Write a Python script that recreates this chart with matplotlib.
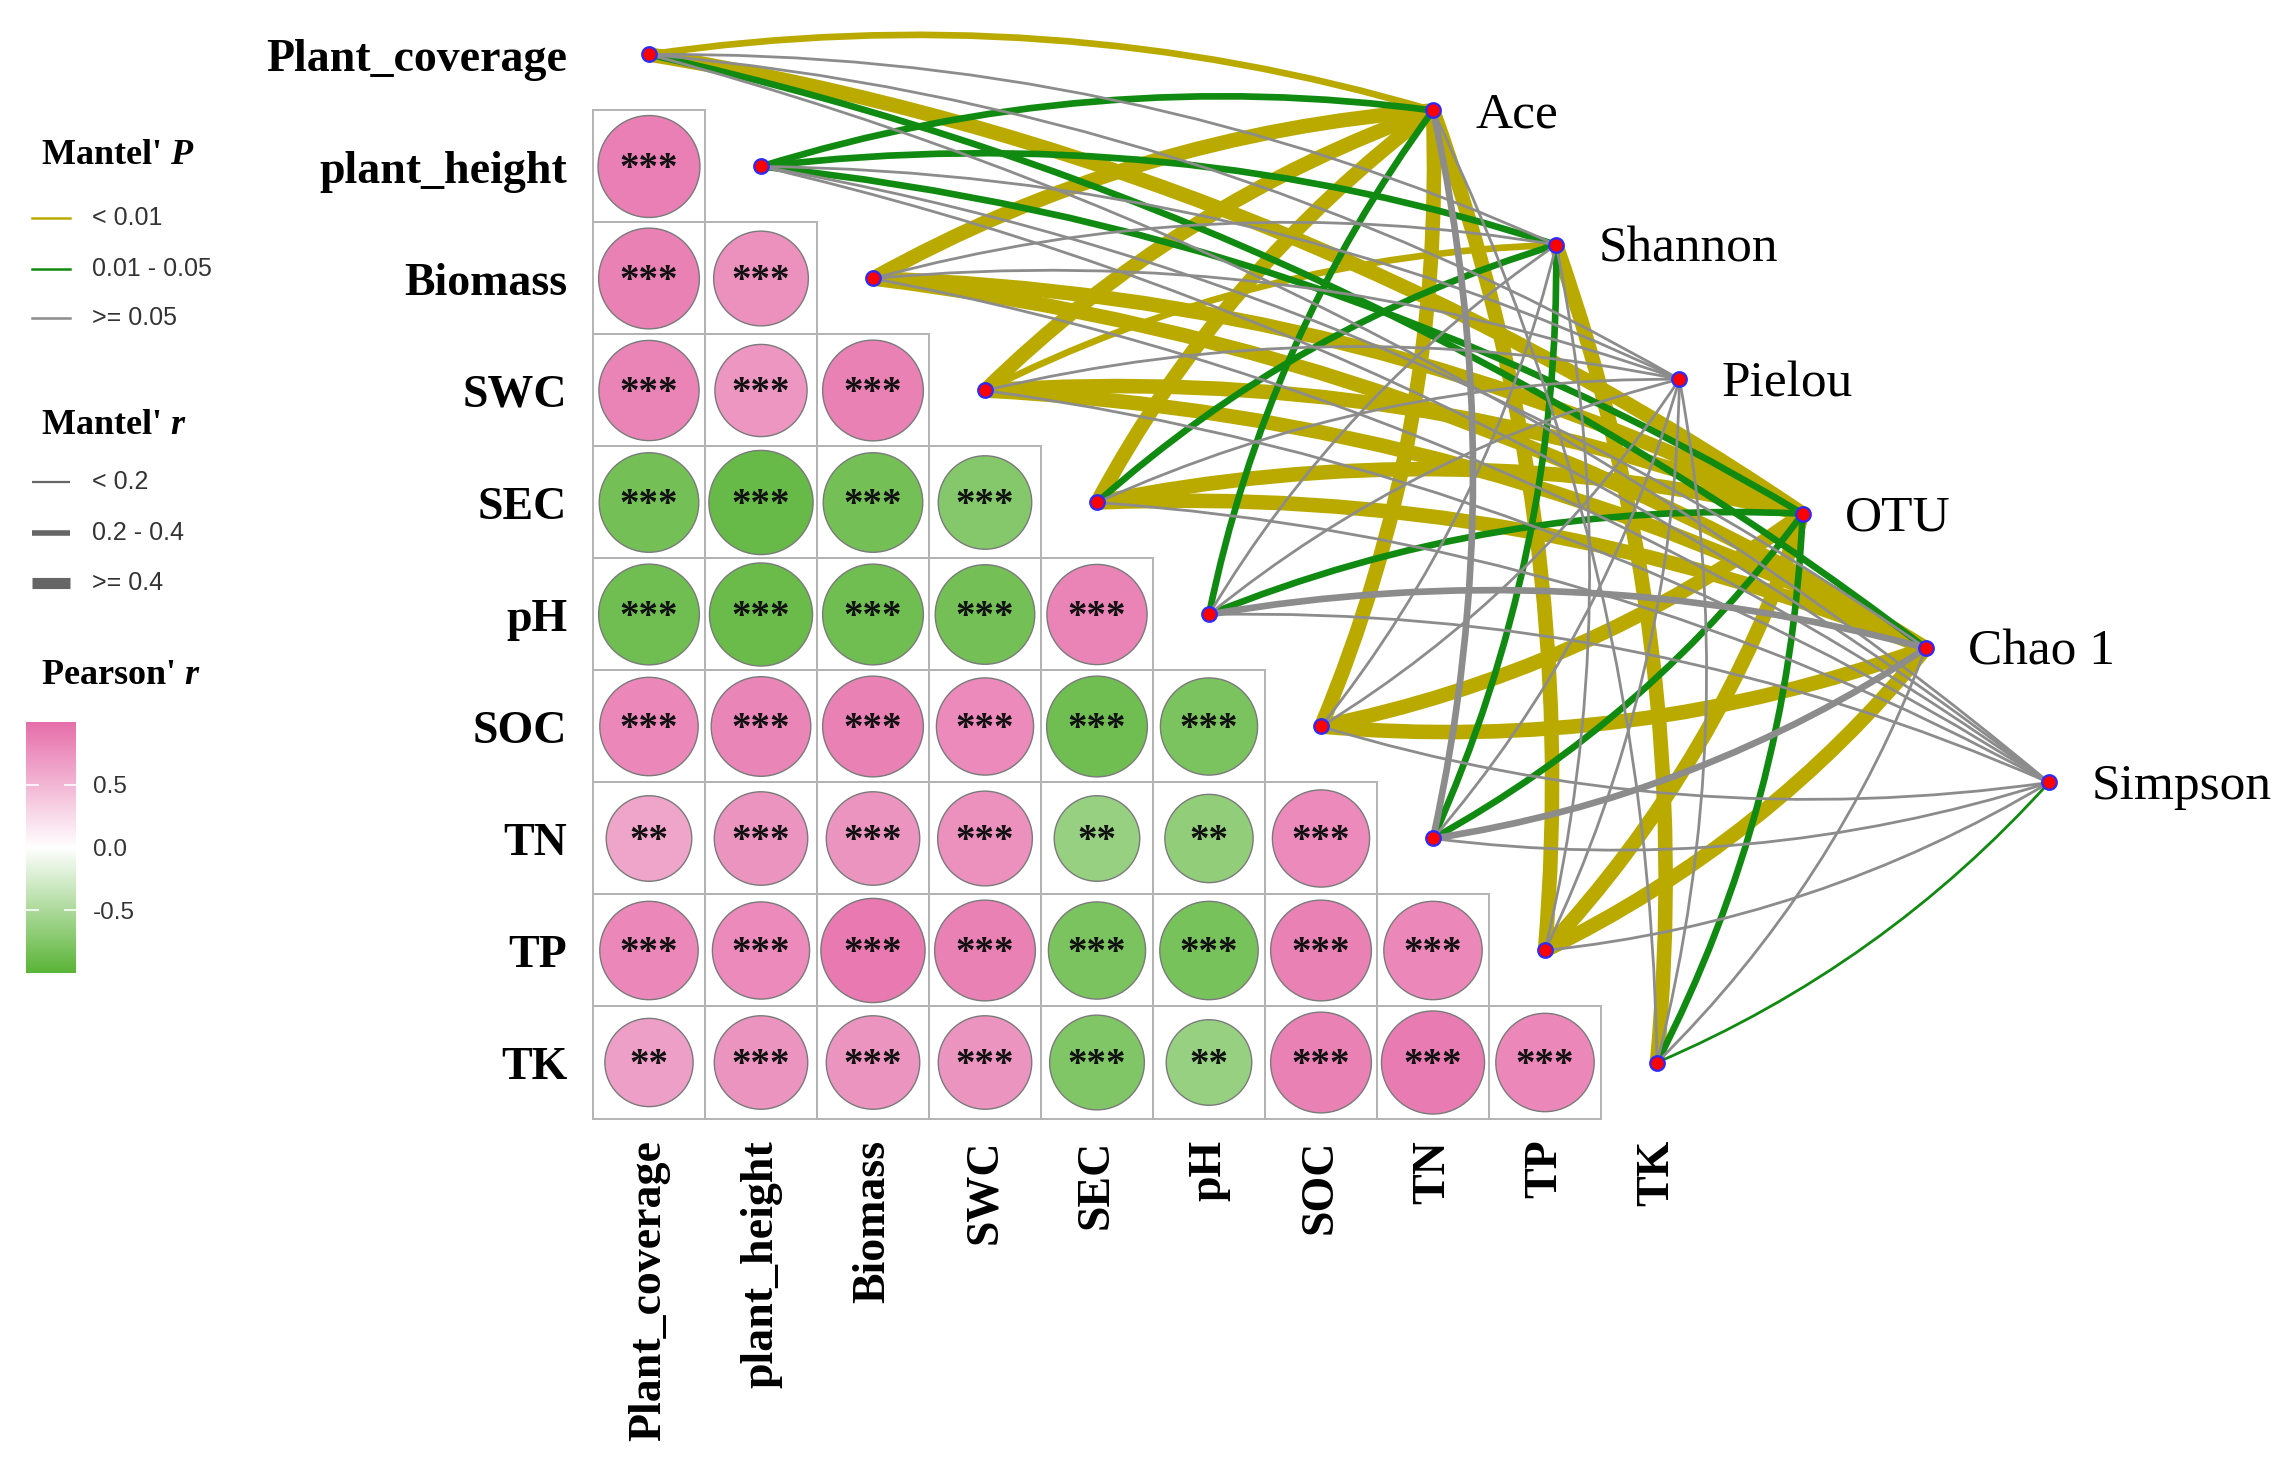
import numpy as np
import matplotlib
matplotlib.use("Agg")
import matplotlib.pyplot as plt
from matplotlib.colors import LinearSegmentedColormap, Normalize
from matplotlib.cm import ScalarMappable
from matplotlib.patches import Circle, Rectangle, PathPatch
from matplotlib.path import Path
from matplotlib.lines import Line2D

plt.rcParams['mathtext.fontset'] = 'custom'
plt.rcParams['mathtext.it'] = 'Liberation Serif:italic:bold'
plt.rcParams['mathtext.rm'] = 'Liberation Serif:bold'
plt.rcParams['mathtext.bf'] = 'Liberation Serif:bold'

# ---------------- data ----------------
env_vars = ["Plant_coverage", "plant_height", "Biomass", "SWC", "SEC",
            "pH", "SOC", "TN", "TP", "TK"]
diversity = ["Ace", "Shannon", "Pielou", "OTU", "Chao 1", "Simpson"]

# Pearson r, lower triangle (row i, columns 0..i-1)
pearson_r = [
    [],
    [0.88],
    [0.86, 0.76],
    [0.85, 0.72, 0.86],
    [-0.84, -0.92, -0.84, -0.74],
    [-0.86, -0.90, -0.86, -0.84, 0.85],
    [0.82, 0.84, 0.86, 0.80, -0.86, -0.80],
    [0.62, 0.74, 0.74, 0.76, -0.62, -0.66, 0.80],
    [0.82, 0.80, 0.92, 0.86, -0.80, -0.82, 0.86, 0.82],
    [0.66, 0.74, 0.74, 0.74, -0.76, -0.62, 0.86, 0.90, 0.82],
]
pearson_sig = [
    [],
    ["***"],
    ["***", "***"],
    ["***", "***", "***"],
    ["***", "***", "***", "***"],
    ["***", "***", "***", "***", "***"],
    ["***", "***", "***", "***", "***", "***"],
    ["**", "***", "***", "***", "**", "**", "***"],
    ["***", "***", "***", "***", "***", "***", "***", "***"],
    ["**", "***", "***", "***", "***", "**", "***", "***", "***"],
]

# Mantel r / p : rows = env_vars, cols = diversity
mantel_r = [
    [0.30, 0.10, 0.08, 0.48, 0.28, 0.06],
    [0.26, 0.27, 0.12, 0.25, 0.14, 0.09],
    [0.52, 0.13, 0.09, 0.50, 0.49, 0.07],
    [0.50, 0.32, 0.11, 0.51, 0.47, 0.08],
    [0.46, 0.28, 0.12, 0.53, 0.50, 0.10],
    [0.27, 0.15, 0.11, 0.29, 0.30, 0.12],
    [0.55, 0.13, 0.10, 0.52, 0.56, 0.09],
    [0.24, 0.29, 0.13, 0.31, 0.26, 0.11],
    [0.49, 0.14, 0.12, 0.54, 0.51, 0.10],
    [0.15, 0.47, 0.12, 0.33, 0.13, 0.18],
]
mantel_p = [
    [0.004, 0.21, 0.35, 0.001, 0.032, 0.46],
    [0.021, 0.018, 0.15, 0.028, 0.12, 0.27],
    [0.001, 0.18, 0.31, 0.001, 0.001, 0.39],
    [0.001, 0.006, 0.22, 0.001, 0.001, 0.33],
    [0.001, 0.024, 0.14, 0.001, 0.001, 0.28],
    [0.037, 0.11, 0.19, 0.026, 0.072, 0.16],
    [0.001, 0.16, 0.24, 0.001, 0.001, 0.30],
    [0.063, 0.041, 0.13, 0.019, 0.081, 0.21],
    [0.001, 0.13, 0.17, 0.001, 0.001, 0.22],
    [0.12, 0.002, 0.09, 0.035, 0.14, 0.044],
]

p_labels = ["< 0.01", "0.01 - 0.05", ">= 0.05"]
r_labels = ["< 0.2", "0.2 - 0.4", ">= 0.4"]
cbar_ticks = [-0.5, 0.0, 0.5]

# ---------------- style ----------------
YEL, GRN, GRY = "#BAAA00", "#118A11", "#8C8C8C"
P_COLORS = [YEL, GRN, GRY]
R_WIDTHS = [2.0, 4.8, 10.5]
SERIF = "Liberation Serif"
SANS = "Liberation Sans"

def p_class(p):
    return 0 if p < 0.01 else (1 if p < 0.05 else 2)

def r_class(r):
    return 0 if r < 0.2 else (1 if r < 0.4 else 2)

W, H = 2278, 1465
fig = plt.figure(figsize=(W / 100, H / 100), dpi=100)
CELL = 112.0
X0, Y0 = 649.0, 54.5
ax = fig.add_axes([0, 0, 1, 1])
ax.set_xlim(-X0 / CELL, (W - X0) / CELL)
ax.set_ylim((H - Y0) / CELL, -Y0 / CELL)
ax.axis('off')

cmap = LinearSegmentedColormap.from_list('pg', ['#5AB437', '#FFFFFF', '#E66EAA'])
norm = Normalize(-1, 1)

n = len(env_vars)
# heatmap cells
for i in range(1, n):
    for j in range(i):
        r = pearson_r[i][j]
        ax.add_patch(Rectangle((j - 0.5, i - 0.5), 1, 1, fill=False,
                               ec='#B3B3B3', lw=1.4, zorder=1))
        rad = 0.485 * np.sqrt(abs(r))
        ax.add_patch(Circle((j, i), rad, fc=cmap(norm(r)), ec='#7A7A7A',
                            lw=1.0, zorder=2))
        ax.text(j, i + 0.03, pearson_sig[i][j], ha='center', va='center',
                fontsize=28, fontfamily=SERIF, fontweight='bold',
                color='#111111', zorder=3)

# labels
for k, name in enumerate(env_vars):
    ax.text(-0.73, k + 0.045, name, ha='right', va='center', fontsize=33,
            fontfamily=SERIF, fontweight='bold', color='black')
    ax.text(k, 9.69, name, ha='center', va='top', rotation=90, fontsize=33,
            fontfamily=SERIF, fontweight='bold', color='black')

# target positions
m = len(diversity)
tx = np.linspace(7.0, 12.5, m)
ty = np.linspace(0.5, 6.5, m)

CURV = 0.11
segs = []
for i in range(n):
    for k in range(m):
        pc = p_class(mantel_p[i][k])
        rc = r_class(mantel_r[i][k])
        segs.append((R_WIDTHS[rc], pc, i, k))
segs.sort(key=lambda s: (-s[0], s[1]))
for lw, pc, i, k in segs:
    x0, y0 = i, i
    x1, y1 = tx[k], ty[k]
    dx, dy = x1 - x0, y1 - y0
    sgn = 1 if i < 6 else -1
    cx = (x0 + x1) / 2 + sgn * CURV * dy
    cy = (y0 + y1) / 2 - sgn * CURV * dx
    path = Path([(x0, y0), (cx, cy), (x1, y1)],
                [Path.MOVETO, Path.CURVE3, Path.CURVE3])
    ax.add_patch(PathPatch(path, fc='none', ec=P_COLORS[pc], lw=lw,
                           capstyle='butt', zorder=4))

# nodes
ax.plot(range(n), range(n), 'o', ms=10.5, mfc='#FF0000', mec='#2B2BFF',
        mew=1.6, zorder=6, ls='none')
ax.plot(tx, ty, 'o', ms=10.5, mfc='#FF0000', mec='#2B2BFF', mew=1.6,
        zorder=6, ls='none')
for k, name in enumerate(diversity):
    ax.text(tx[k] + 0.38, ty[k] + 0.04, name, ha='left', va='center',
            fontsize=37, fontfamily=SERIF, color='black')

# ---------------- legends ----------------
def fx(px):
    return px / W

def fy(py):
    return 1 - py / H

def title(py, s):
    fig.text(fx(41), fy(py), s, ha='left', va='center', fontsize=26,
             fontfamily=SERIF, fontweight='bold', color='black')

title(155, "Mantel' $P$")
for idx, py in enumerate([218, 269, 318]):
    fig.add_artist(Line2D([fx(32), fx(70)], [fy(py), fy(py)],
                          color=P_COLORS[idx], lw=1.8))
    fig.text(fx(92), fy(py), p_labels[idx], ha='left', va='center',
             fontsize=18, fontfamily=SANS, color='#333333')

title(426, "Mantel' $r$")
for idx, py in enumerate([482, 533, 583]):
    fig.add_artist(Line2D([fx(32), fx(70)], [fy(py), fy(py)],
                          color='#666666', lw=[1.6, 4.0, 8.0][idx],
                          solid_capstyle='butt'))
    fig.text(fx(92), fy(py), r_labels[idx], ha='left', va='center',
             fontsize=18, fontfamily=SANS, color='#333333')

title(676, "Pearson' $r$")
cax = fig.add_axes([fx(26), fy(973), fx(76) - fx(26), (973 - 722) / H])
cb = fig.colorbar(ScalarMappable(norm=norm, cmap=cmap), cax=cax, ticks=cbar_ticks)
cb.outline.set_visible(False)
cax.tick_params(which='both', color='white', length=9, width=1.2,
                direction='in', left=True, right=True, labelcolor='#333333',
                labelsize=17.5, pad=12)
cax.minorticks_off()
for t in cax.get_yticklabels():
    t.set_fontfamily(SANS)
cax.set_yticklabels(["-0.5", "0.0", "0.5"])

fig.savefig("out.png", dpi=100, facecolor='white')
